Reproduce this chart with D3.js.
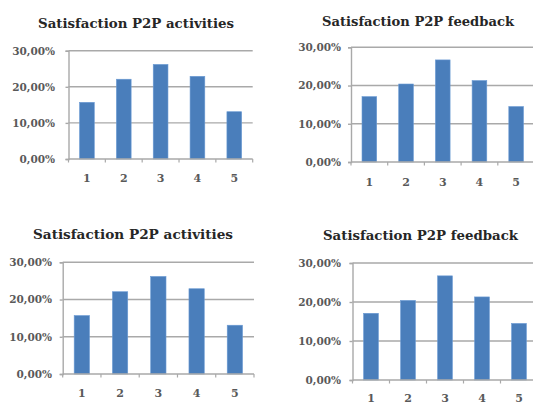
<!DOCTYPE html>
<html>
<head>
<meta charset="utf-8">
<script src="https://cdn.jsdelivr.net/npm/d3@7"></script>
<style>
  html, body { margin: 0; padding: 0; background: #ffffff; }
  svg { display: block; }
</style>
</head>
<body>
<svg id="chart" width="533" height="403"></svg>
<script>
// ---- Data ----
const categories = ["1", "2", "3", "4", "5"];
const activitiesValues = [15.7, 22.1, 26.2, 22.9, 13.1];
const feedbackValues = [17.1, 20.4, 26.7, 21.3, 14.5];
const yTicks = [0, 10, 20, 30];
const yTickLabels = ["0,00%", "10,00%", "20,00%", "30,00%"];
const titles = ["Satisfaction P2P activities", "Satisfaction P2P feedback"];

// ---- Layout (positions only) ----
const panels = [
  { title: titles[0], values: activitiesValues, x0: 68.5, x1: 252.7, yTop: 50.7, yBot: 159, titleX: 136, titleY: 28, titleW: 196, labelX: 55, xLabelY: 182 },
  { title: titles[1], values: feedbackValues,  x0: 351,  x1: 534.5, yTop: 47.3, yBot: 162, titleX: 418, titleY: 26, titleW: 192, labelX: 341, xLabelY: 186 },
  { title: titles[0], values: activitiesValues, x0: 62.7, x1: 254,   yTop: 262.3, yBot: 374, titleX: 133, titleY: 239, titleW: 200, labelX: 52, xLabelY: 397 },
  { title: titles[1], values: feedbackValues,  x0: 352.5, x1: 537.5, yTop: 263, yBot: 380, titleX: 420.5, titleY: 240, titleW: 195, labelX: 341, xLabelY: 401.5 }
];

const svg = d3.select("#chart");
const gridColor = "#a9a9a9";
const textColor = "#595959";
const barColor = "#4a7ebb";

panels.forEach(p => {
  const g = svg.append("g");
  const x = d3.scaleBand().domain(categories).range([p.x0, p.x1]).paddingInner(0.6).paddingOuter(0.3);
  const y = d3.scaleLinear().domain([0, 30]).range([p.yBot, p.yTop]);

  // Title
  g.append("text")
    .attr("x", p.titleX).attr("y", p.titleY)
    .attr("text-anchor", "middle")
    .attr("font-family", "DejaVu Serif")
    .attr("font-weight", "bold")
    .attr("font-size", 13.5)
    .attr("fill", "#262626")
    .attr("textLength", p.titleW)
    .attr("lengthAdjust", "spacingAndGlyphs")
    .text(p.title);

  // Gridlines
  g.append("g").selectAll("line").data(yTicks.filter(t => t > 0)).join("line")
    .attr("x1", p.x0).attr("x2", p.x1)
    .attr("y1", d => y(d)).attr("y2", d => y(d))
    .attr("stroke", gridColor).attr("stroke-width", 1.4);

  // Y axis
  const yAxis = d3.axisLeft(y).tickValues(yTicks).tickSize(3).tickPadding(p.x0 - p.labelX - 3)
    .tickFormat((d, i) => yTickLabels[i]);
  const ya = g.append("g").attr("transform", `translate(${p.x0},0)`).call(yAxis);
  ya.select(".domain").attr("stroke", gridColor).attr("stroke-width", 1.4);
  ya.selectAll(".tick line").attr("stroke", gridColor).attr("stroke-width", 1.4);
  ya.selectAll(".tick text")
    .attr("font-family", "DejaVu Serif").attr("font-weight", "bold")
    .attr("font-size", 10.5).attr("fill", textColor);

  // Bars
  g.append("g").selectAll("rect").data(p.values).join("rect")
    .attr("x", (d, i) => x(categories[i]))
    .attr("width", x.bandwidth())
    .attr("y", d => y(d))
    .attr("height", d => y(0) - y(d))
    .attr("fill", barColor)
    .attr("stroke", "#6b9bd4").attr("stroke-width", 0.6);

  // X axis line
  const xa = g.append("g");
  xa.append("line")
    .attr("x1", p.x0).attr("x2", p.x1)
    .attr("y1", y(0)).attr("y2", y(0))
    .attr("stroke", gridColor).attr("stroke-width", 1.4);
  // tick marks at category boundaries
  const step = x.step();
  const bounds = d3.range(categories.length + 1).map(i => p.x0 + i * step);
  xa.selectAll("line.tk").data(bounds).join("line").attr("class", "tk")
    .attr("x1", d => d).attr("x2", d => d)
    .attr("y1", y(0)).attr("y2", y(0) + 3.5)
    .attr("stroke", gridColor).attr("stroke-width", 1.2);
  // category labels
  xa.selectAll("text").data(categories).join("text")
    .attr("x", d => x(d) + x.bandwidth() / 2)
    .attr("y", p.xLabelY)
    .attr("text-anchor", "middle")
    .attr("font-family", "DejaVu Serif").attr("font-weight", "bold")
    .attr("font-size", 11).attr("fill", textColor)
    .text(d => d);
});
</script>
</body>
</html>
